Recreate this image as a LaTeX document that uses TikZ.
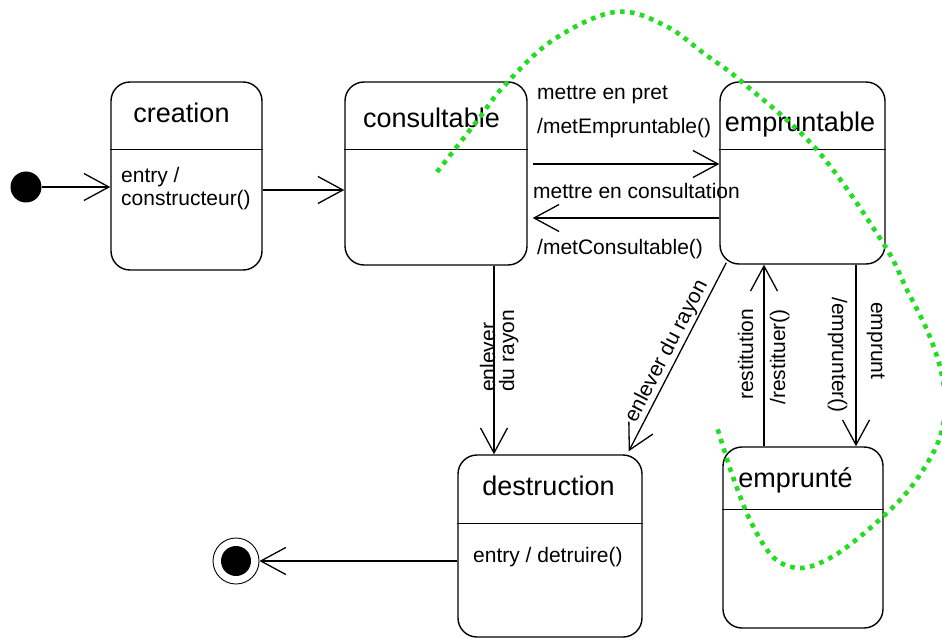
\documentclass[tikz,border=0pt]{standalone}
\usepackage{fontspec}
\setmainfont{Liberation Sans}
\usetikzlibrary{arrows.meta,calc}
\definecolor{marker}{RGB}{34,221,34}
\begin{document}
\begin{tikzpicture}[x=1pt,y=-1pt,
  state/.style={draw, line width=1.4pt, rounded corners=19pt, inner sep=0pt},
  divider/.style={line width=1.2pt},
  title/.style={font=\fontsize{27}{32}\selectfont, inner sep=0pt, anchor=base},
  lbl/.style={font=\fontsize{21}{24}\selectfont, inner sep=0pt, anchor=base west},
  trans/.style={line width=1.3pt, -{Straight Barb[length=25pt,width=27pt,line width=1.3pt]}},
  hand/.style={draw=marker, line width=4.6pt, dash pattern=on 4.6pt off 5.4pt}
]
\useasboundingbox (0,0) rectangle (942,639);

% states
\node[state, minimum width=151pt, minimum height=188pt] (creation) at (186.5,176) {};
\node[state, minimum width=182pt, minimum height=183pt] (consultable) at (436,173.5) {};
\node[state, minimum width=165pt, minimum height=182pt] (empruntable) at (802.5,173) {};
\node[state, minimum width=160pt, minimum height=181pt] (emprunte) at (803,537.5) {};
\node[state, minimum width=184pt, minimum height=182pt] (destruction) at (550,546) {};

% compartment lines
\draw[divider] ($(creation.north west)+(0,68)$) -- ($(creation.north east)+(0,68)$);
\draw[divider] ($(consultable.north west)+(0,68)$) -- ($(consultable.north east)+(0,68)$);
\draw[divider] ($(empruntable.north west)+(0,68)$) -- ($(empruntable.north east)+(0,68)$);
\draw[divider] ($(emprunte.north west)+(0,63)$) -- ($(emprunte.north east)+(0,63)$);
\draw[divider] ($(destruction.north west)+(0,69)$) -- ($(destruction.north east)+(0,69)$);

% state names
\node[title] (t1) at (181.5,123) {creation};
\node[title] (t2) at (431.5,128) {consultable};
\node[title] (t3) at (800,132) {empruntable};
\node[title] (t4) at (795.5,487) {emprunté};
\node[title] (t5) at (548.5,495) {destruction};

% internal actions
\node[lbl] (e1) at (121,183) {entry /};
\node[lbl] (e2) at (121,206) {constructeur()};
\node[lbl] (e3) at (473,562) {entry / detruire()};

% pseudo states
\node[circle, fill=black, minimum size=31pt, inner sep=0pt] (init) at (26,187) {};
\node[circle, draw, line width=0.9pt, minimum size=46pt, inner sep=0pt] (final) at (236,561) {};
\fill (final.center) circle[radius=15];

% transitions
\draw[trans] (init) -- (init -| creation.west);
\draw[trans] ($(creation.east)+(0,14)$) coordinate (a1) -- (a1 -| consultable.west);
\draw[trans] ($(consultable.east)+(5,-9.5)$) coordinate (a2) -- (a2 -| empruntable.west);
\draw[trans] ($(empruntable.west)+(0,45)$) coordinate (a3) -- ($(a3 -| consultable.east)+(5,0)$);
\draw[trans] ($(consultable.south)+(58,0)$) coordinate (a4) -- (a4 |- destruction.north);
\draw[trans] ($(emprunte.north)+(-39,0)$) coordinate (a5) -- (a5 |- empruntable.south);
\draw[trans] ($(empruntable.south)+(53.5,0)$) coordinate (a6) -- (a6 |- emprunte.north);
\draw[trans] ($(destruction.west)+(0,15)$) -- (final);
\draw[trans] ($(empruntable.south west)+(7,-2)$) coordinate (a7)
  -- ($(destruction.north east)+(-14,-3)$)
  node[midway, sloped, above=1.5pt, font=\fontsize{21}{24}\selectfont, inner sep=0pt] (l7) {enlever du rayon};

% transition labels
\node[lbl] (l1) at (537,100) {mettre en pret};
\node[lbl] (l2) at (537,134) {/metEmpruntable()};
\node[lbl] (l3) at (533,199) {mettre en consultation};
\node[lbl] (l4) at (537,254) {/metConsultable()};
\node[lbl, rotate=90] (l5) at (495,392) {enlever};
\node[lbl, rotate=90] (l6) at (514,392) {du rayon};
\node[lbl, rotate=90] (l8) at (753,400) {restitution};
\node[lbl, rotate=90] (l9) at (785,405) {/restituer()};
\node[lbl, rotate=-90] (l10) at (832,297) {/emprunter()};
\node[lbl, rotate=-90] (l11) at (871,302) {emprunt};

% hand-drawn dotted outline
\begin{scope}
\clip (0,0) rectangle (942,639);
\draw[hand] plot[smooth, tension=0.6] coordinates {
  (437,172) (477,121) (504,86) (553,40) (615,12) (664,25) (706,55)
  (742,82) (817,150) (883,243) (907,290) (927,330) (940,367) (945,402)
  (940,437) (923,470) (900,500) (862,535) (830,558) (800,568) (773,557)
  (750,520) (733,477) (725,453) (717,427)};
\end{scope}
\end{tikzpicture}
\end{document}
